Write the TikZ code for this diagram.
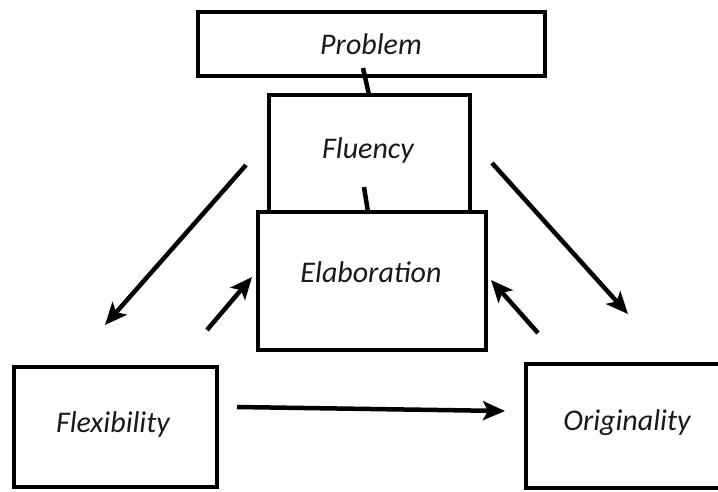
\documentclass[tikz,border=0pt]{standalone}
\usepackage{fontspec}
\setmainfont{Carlito}
\usetikzlibrary{arrows.meta}
\begin{document}
\begin{tikzpicture}[x=1pt,y=-1pt,
 box/.style={draw=black, line width=4.5pt, fill=white, inner sep=0pt},
 lbl/.style={font=\fontsize{30}{32}\selectfont\itshape, anchor=base, inner sep=0pt, text=black!90},
 arr/.style={line width=4.5pt, -{Stealth[length=22pt,width=19pt,inset=5pt]}},
 link/.style={line width=4.5pt}]
\useasboundingbox (0,0) rectangle (718,491);
% boxes
\node[box, minimum width=347pt, minimum height=64pt] (problem) at (371.5,44) {};
\node[box, minimum width=201pt, minimum height=117pt] (fluency) at (369.5,153.5) {};
\coordinate (p1) at (363,68);
\coordinate (f1) at (369,95);
\coordinate (f2) at (364,187);
\coordinate (e1) at (368,212);
\draw[link] (p1) -- (f1);
\draw[link] (f2) -- (e1);
\node[box, minimum width=228pt, minimum height=138pt] (elab) at (372,281) {};
\node[box, minimum width=203pt, minimum height=120pt] (flex) at (115.5,427) {};
\node[box, minimum width=198pt, minimum height=124pt] (orig) at (625,426) {};
% labels
\node[lbl] (tproblem) at (371,54) {Problem};
\node[lbl] (tfluency) at (368,158) {Fluency};
\node[lbl] (telab) at (371,282) {Elaboration};
\node[lbl] (tflex) at (113,432) {Flexibility};
\node[lbl] (torig) at (627,430) {Originality};
% arrows
\coordinate (a1s) at (246,165);
\coordinate (a1e) at (105,325);
\coordinate (a2s) at (207,330);
\coordinate (a2e) at (252,277);
\coordinate (a3s) at (492,163);
\coordinate (a3e) at (628,314);
\coordinate (a4s) at (538,333);
\coordinate (a4e) at (491,280);
\coordinate (a5s) at (237,407);
\coordinate (a5e) at (505,411);
\draw[arr] (a1s) -- (a1e);
\draw[arr] (a2s) -- (a2e);
\draw[arr] (a3s) -- (a3e);
\draw[arr] (a4s) -- (a4e);
\draw[arr] (a5s) -- (a5e);
\end{tikzpicture}
\end{document}
